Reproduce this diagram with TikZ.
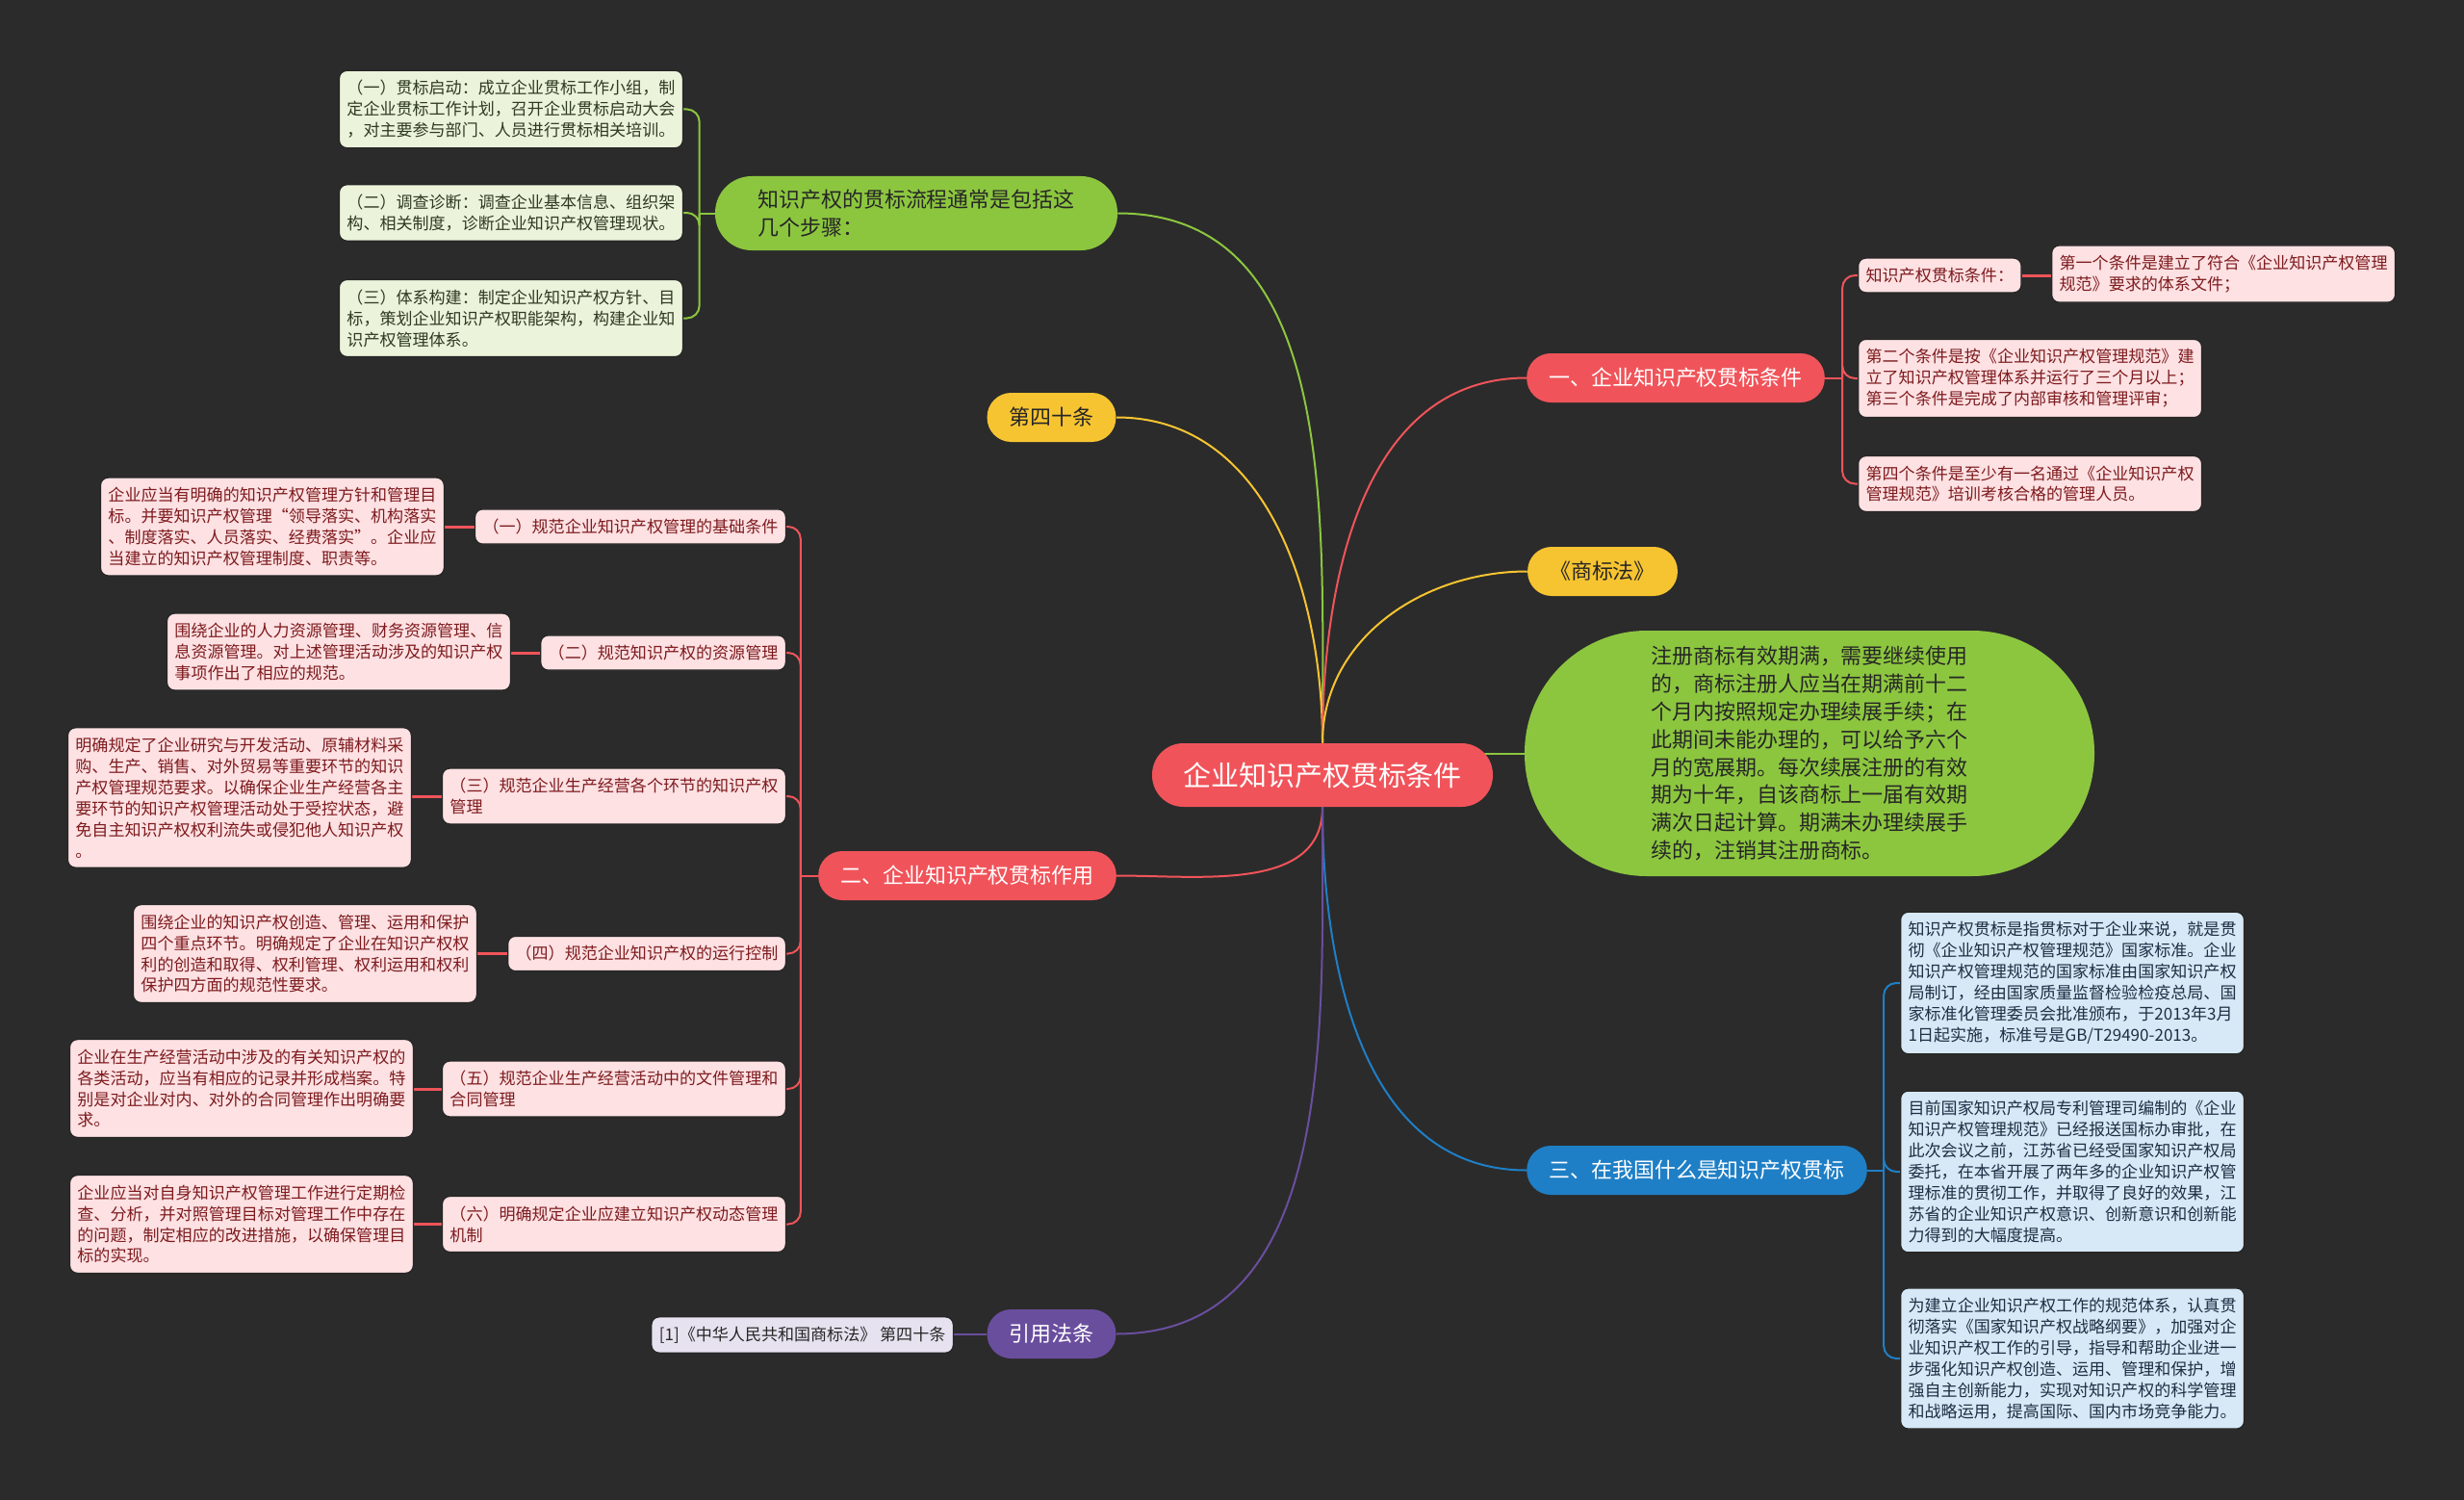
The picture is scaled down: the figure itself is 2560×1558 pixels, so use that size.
\documentclass[tikz,border=0pt]{standalone}
\usepackage{fontspec}
\setmainfont{Noto Sans CJK SC}
\usepackage{tikz}
\pgfdeclarelayer{back}
\pgfsetlayers{back,main}

\definecolor{bgc}{HTML}{2B2B2B}
\definecolor{rootred}{HTML}{F0545A}
\definecolor{leafgreen}{HTML}{8CC63F}
\definecolor{goldy}{HTML}{F7C431}
\definecolor{skyblue}{HTML}{1F7FC6}
\definecolor{grape}{HTML}{6A4E9E}
\definecolor{pinkfill}{HTML}{FDE1E3}
\definecolor{pinktext}{HTML}{7E1B1E}
\definecolor{bluefill}{HTML}{D7E9F6}
\definecolor{bluetext}{HTML}{1C2F44}
\definecolor{greenfill}{HTML}{EBF3DA}
\definecolor{greentext}{HTML}{2F3A22}
\definecolor{lavfill}{HTML}{E7E2EF}
\definecolor{darktext}{HTML}{262626}

\newcommand\smallsz{\fontsize{9.7pt}{12.5pt}\selectfont}
\newcommand\midsz{\fontsize{12.5pt}{16.4pt}\selectfont}
\newcommand\bigsz{\fontsize{16.5pt}{20pt}\selectfont}

\begin{document}
\begin{tikzpicture}[x=0.2mm, y=-0.2mm,
  tag/.style={rounded corners=1.6mm, align=left, inner xsep=1.6mm, inner ysep=2mm,
    font=\smallsz, draw=black!85, line width=0.25mm},
  pinktag/.style={tag, fill=pinkfill, text=pinktext},
  pinkbox/.style={pinktag, minimum width=71.2mm},
  bluebox/.style={tag, fill=bluefill, text=bluetext, minimum width=71.2mm},
  greenbox/.style={tag, fill=greenfill, text=greentext, minimum width=71.2mm},
  lavtag/.style={tag, fill=lavfill, text=darktext},
  pill/.style={rounded corners=5mm, minimum height=10.2mm, inner xsep=4.6mm, font=\midsz},
  rootnode/.style={fill=rootred, text=white, rounded corners=6.5mm, minimum height=13.2mm,
    inner xsep=6.4mm, font=\bigsz},
  conn/.style={line width=0.4mm},
  link/.style={line width=0.6mm, rootred},
]
  \useasboundingbox (0,0) rectangle (2560,1558);

  \node[rootnode] (root) at (1374,805) {企业知识产权贯标条件};

  \node[fill=leafgreen, text=darktext, rounded corners=7.6mm, minimum height=15.4mm,
    minimum width=83.6mm, align=left, font=\midsz] (g) at (952,221.5)
    {知识产权的贯标流程通常是包括这\\几个步骤：};
  \node[greenbox, anchor=east] (g1) at (710,113.5)
    {（一）贯标启动：成立企业贯标工作小组，制\\定企业贯标工作计划，召开企业贯标启动大会\\，对主要参与部门、人员进行贯标相关培训。};
  \node[greenbox, anchor=east] (g2) at (710,221)
    {（二）调查诊断：调查企业基本信息、组织架\\构、相关制度，诊断企业知识产权管理现状。};
  \node[greenbox, anchor=east] (g3) at (710,330.5)
    {（三）体系构建：制定企业知识产权方针、目\\标，策划企业知识产权职能架构，构建企业知\\识产权管理体系。};

  \node[pill, fill=goldy, text=darktext] (y4) at (1092.5,433.5) {第四十条};
  \node[pill, fill=goldy, text=darktext] (sb) at (1665,593.5) {《商标法》};

  \node[fill=leafgreen, text=darktext, rounded corners=25.4mm, minimum height=51mm,
    minimum width=118.4mm, align=left, font=\midsz] (big) at (1880,782.5)
    {注册商标有效期满，需要继续使用\\的，商标注册人应当在期满前十二\\个月内按照规定办理续展手续；在\\此期间未能办理的，可以给予六个\\月的宽展期。每次续展注册的有效\\期为十年，自该商标上一届有效期\\满次日起计算。期满未办理续展手\\续的，注销其注册商标。};

  \node[pill, fill=rootred, text=white] (r1) at (1741,392.5) {一、企业知识产权贯标条件};
  \node[pinktag, anchor=west] (r1a) at (1930,286) {知识产权贯标条件：};
  \node[pinkbox, anchor=west] (r1a1) at (2131,284.5)
    {第一个条件是建立了符合《企业知识产权管理\\规范》要求的体系文件；};
  \node[pinkbox, anchor=west] (r1b) at (1930,393)
    {第二个条件是按《企业知识产权管理规范》建\\立了知识产权管理体系并运行了三个月以上；\\第三个条件是完成了内部审核和管理评审；};
  \node[pinkbox, anchor=west] (r1c) at (1930,502.5)
    {第四个条件是至少有一名通过《企业知识产权\\管理规范》培训考核合格的管理人员。};

  \node[pill, fill=rootred, text=white] (r2) at (1005,909.5) {二、企业知识产权贯标作用};
  \node[pinktag, anchor=east] (d1) at (817,547) {（一）规范企业知识产权管理的基础条件};
  \node[pinkbox, anchor=east] (e1) at (462,547)
    {企业应当有明确的知识产权管理方针和管理目\\标。并要知识产权管理“领导落实、机构落实\\、制度落实、人员落实、经费落实”。企业应\\当建立的知识产权管理制度、职责等。};
  \node[pinktag, anchor=east] (d2) at (817,678) {（二）规范知识产权的资源管理};
  \node[pinkbox, anchor=east] (e2) at (531,677)
    {围绕企业的人力资源管理、财务资源管理、信\\息资源管理。对上述管理活动涉及的知识产权\\事项作出了相应的规范。};
  \node[pinkbox, anchor=east] (d3) at (817,827) {（三）规范企业生产经营各个环节的知识产权\\管理};
  \node[pinkbox, anchor=east] (e3) at (428,828.5)
    {明确规定了企业研究与开发活动、原辅材料采\\购、生产、销售、对外贸易等重要环节的知识\\产权管理规范要求。以确保企业生产经营各主\\要环节的知识产权管理活动处于受控状态，避\\免自主知识产权权利流失或侵犯他人知识产权\\。};
  \node[pinktag, anchor=east] (d4) at (817,990.5) {（四）规范企业知识产权的运行控制};
  \node[pinkbox, anchor=east] (e4) at (496,990.5)
    {围绕企业的知识产权创造、管理、运用和保护\\四个重点环节。明确规定了企业在知识产权权\\利的创造和取得、权利管理、权利运用和权利\\保护四方面的规范性要求。};
  \node[pinkbox, anchor=east] (d5) at (817,1131) {（五）规范企业生产经营活动中的文件管理和\\合同管理};
  \node[pinkbox, anchor=east] (e5) at (430,1130.5)
    {企业在生产经营活动中涉及的有关知识产权的\\各类活动，应当有相应的记录并形成档案。特\\别是对企业对内、对外的合同管理作出明确要\\求。};
  \node[pinkbox, anchor=east] (d6) at (817,1271.5) {（六）明确规定企业应建立知识产权动态管理\\机制};
  \node[pinkbox, anchor=east] (e6) at (430,1271.5)
    {企业应当对自身知识产权管理工作进行定期检\\查、分析，并对照管理目标对管理工作中存在\\的问题，制定相应的改进措施，以确保管理目\\标的实现。};

  \node[pill, fill=skyblue, text=white] (b3) at (1763,1215.5) {三、在我国什么是知识产权贯标};
  \node[bluebox, anchor=west] (f1) at (1974,1021)
    {知识产权贯标是指贯标对于企业来说，就是贯\\彻《企业知识产权管理规范》国家标准。企业\\知识产权管理规范的国家标准由国家知识产权\\局制订，经由国家质量监督检验检疫总局、国\\家标准化管理委员会批准颁布，于2013年3月\\1日起实施，标准号是GB/T29490-2013。};
  \node[bluebox, anchor=west] (f2) at (1974,1217)
    {目前国家知识产权局专利管理司编制的《企业\\知识产权管理规范》已经报送国标办审批，在\\此次会议之前，江苏省已经受国家知识产权局\\委托，在本省开展了两年多的企业知识产权管\\理标准的贯彻工作，并取得了良好的效果，江\\苏省的企业知识产权意识、创新意识和创新能\\力得到的大幅度提高。};
  \node[bluebox, anchor=west] (f3) at (1974,1411)
    {为建立企业知识产权工作的规范体系，认真贯\\彻落实《国家知识产权战略纲要》，加强对企\\业知识产权工作的引导，指导和帮助企业进一\\步强化知识产权创造、运用、管理和保护，增\\强自主创新能力，实现对知识产权的科学管理\\和战略运用，提高国际、国内市场竞争能力。};

  \node[pill, fill=grape, text=white] (p) at (1092.5,1385.5) {引用法条};
  \node[lavtag, anchor=east] (p1) at (991,1386.5) {[1]《中华人民共和国商标法》 第四十条};

  \begin{pgfonlayer}{back}
    \fill[bgc] (0,0) rectangle (2560,1558);

    \draw[conn, leafgreen] (root.north) to[out=90,in=0] (g.east);
    \draw[conn, goldy] (root.north) to[out=90,in=0] (y4.east);
    \draw[conn, rootred] (root.north) to[out=90,in=180] (r1.west);
    \draw[conn, goldy] (root.north) to[out=90,in=180] (sb.west);
    \draw[conn, leafgreen] (root.center |- big.west) -- (big.west);
    \draw[conn, rootred] (root.south) to[out=-90,in=0] (r2.east);
    \draw[conn, skyblue] (root.south) to[out=-90,in=180] (b3.west);
    \draw[conn, grape] (root.south) to[out=-90,in=0] (p.east);

    \draw[conn, leafgreen] (g.west) -- ++(-16,0) coordinate (gk);
    \foreach \c in {g1,g2,g3}
      \draw[conn, leafgreen, rounded corners=2.6mm] (gk) |- (\c.east);
    \draw[conn, rootred] (r1.east) -- ++(18,0) coordinate (r1k);
    \foreach \c in {r1a,r1b,r1c}
      \draw[conn, rootred, rounded corners=2.6mm] (r1k) |- (\c.west);
    \draw[conn, rootred] (r2.west) -- ++(-18,0) coordinate (r2k);
    \foreach \c in {d1,d2,d3,d4,d5,d6}
      \draw[conn, rootred, rounded corners=2.6mm] (r2k) |- (\c.east);
    \draw[conn, skyblue] (b3.east) -- ++(17,0) coordinate (b3k);
    \foreach \c in {f1,f2,f3}
      \draw[conn, skyblue, rounded corners=2.6mm] (b3k) |- (\c.west);

    \foreach \a/\b in {d1/e1,d2/e2,d3/e3,d4/e4,d5/e5,d6/e6}
      \draw[link] (\a.west) -- (\a.west -| \b.east);
    \draw[link] (r1a.east) -- (r1a.east -| r1a1.west);
    \draw[conn, grape] (p.west) -- (p.west -| p1.east);
  \end{pgfonlayer}
\end{tikzpicture}
\end{document}
